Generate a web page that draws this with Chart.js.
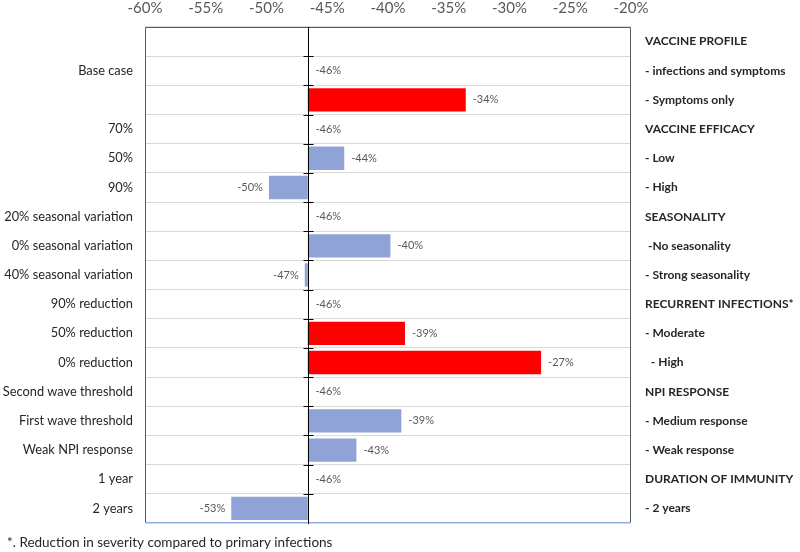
<!DOCTYPE html>
<html>
<head>
<meta charset="utf-8">
<script src="https://cdn.jsdelivr.net/npm/chart.js@4/dist/chart.umd.min.js"></script>
<style>
  html, body { margin: 0; padding: 0; background: #fff; }
  #wrap { width: 800px; height: 552px; }
</style>
</head>
<body>
<div id="wrap"><canvas id="tornado"></canvas></div>
<script>
// scenario labels (left) and group labels (right), top row is a header row
const leftLabels = ['', 'Base case', '', '70%', '50%', '90%', '20% seasonal variation', '0% seasonal variation',
  '40% seasonal variation', '90% reduction', '50% reduction', '0% reduction', 'Second wave threshold',
  'First wave threshold', 'Weak NPI response', '1 year', '2 years'];
const rightLabels = ['VACCINE PROFILE', '- infections and symptoms', '- Symptoms only', 'VACCINE EFFICACY', '- Low', '- High',
  'SEASONALITY', ' -No seasonality', '- Strong seasonality', 'RECURRENT INFECTIONS*', '- Moderate', '  - High',
  'NPI RESPONSE', '- Medium response', '- Weak response', 'DURATION OF IMMUNITY', '- 2 years'];

// reduction in severity (%), base case line
const baseValue = -46.6;
const values = [null, -46.6, -33.6, -46.6, -43.6, -49.8, -46.6, -39.8, -46.85, -46.6, -38.6, -27.4, -46.6, -38.9, -42.6, -46.6, -52.9];
const valueLabels = ['', '-46%', '-34%', '-46%', '-44%', '-50%', '-46%', '-40%', '-47%', '-46%', '-39%', '-27%', '-46%',
  '-39%', '-43%', '-46%', '-53%'];
const redRows = [2, 10, 11];

const blue = '#8fa3d6';
const red = '#ff0000';
const fontFamily = 'Lato, "Open Sans", sans-serif';

const tornadoExtras = {
  id: 'tornadoExtras',
  afterDatasetsDraw(chart) {
    const ctx = chart.ctx;
    const area = chart.chartArea;
    const x = chart.scales.x;
    const y = chart.scales.y;
    const bx = Math.round(x.getPixelForValue(baseValue)) + 0.5;
    ctx.save();
    // plot border
    ctx.strokeStyle = '#595959';
    ctx.lineWidth = 1;
    ctx.beginPath();
    ctx.moveTo(area.left + 0.5, area.bottom);
    ctx.lineTo(area.left + 0.5, area.top + 0.5);
    ctx.lineTo(area.right - 0.5, area.top + 0.5);
    ctx.lineTo(area.right - 0.5, area.bottom);
    ctx.stroke();
    ctx.strokeStyle = '#8faadc';
    ctx.beginPath();
    ctx.moveTo(area.left, area.bottom - 0.5);
    ctx.lineTo(area.right, area.bottom - 0.5);
    ctx.stroke();
    // base case line with tick marks
    ctx.strokeStyle = '#000';
    ctx.beginPath();
    ctx.moveTo(bx, area.top);
    ctx.lineTo(bx, area.bottom);
    const step = (area.bottom - area.top) / leftLabels.length;
    for (let i = 1; i < leftLabels.length; i++) {
      const ty = Math.round(area.top + i * step) + 0.5;
      ctx.moveTo(bx - 5, ty);
      ctx.lineTo(bx + 5, ty);
    }
    ctx.moveTo(bx, area.bottom);
    ctx.lineTo(bx, area.bottom + 1);
    ctx.stroke();
    // value labels
    ctx.font = '11px ' + fontFamily;
    ctx.fillStyle = '#595959';
    ctx.textBaseline = 'middle';
    values.forEach((v, i) => {
      if (v === null) return;
      const py = y.getPixelForValue(i);
      const px = x.getPixelForValue(v);
      if (v < baseValue - 0.1) {
        ctx.textAlign = 'right';
        ctx.fillText(valueLabels[i], px - 6, py);
      } else {
        ctx.textAlign = 'left';
        ctx.fillText(valueLabels[i], Math.max(px, bx) + 7, py);
      }
    });
    // footnote
    ctx.font = '13.5px ' + fontFamily;
    ctx.fillStyle = '#262626';
    ctx.textAlign = 'left';
    ctx.fillText('*. Reduction in severity compared to primary infections', 7, 543);
    ctx.restore();
  }
};

new Chart(document.getElementById('tornado'), {
  type: 'bar',
  data: {
    labels: leftLabels,
    datasets: [{
      data: values.map(v => v === null ? null : [baseValue, v]),
      backgroundColor: values.map((v, i) => redRows.includes(i) ? red : blue),
      barPercentage: 0.8,
      categoryPercentage: 1.0
    }]
  },
  options: {
    indexAxis: 'y',
    responsive: true,
    maintainAspectRatio: false,
    animation: false,
    layout: { padding: { top: 0, bottom: 29, left: 0, right: 0 } },
    plugins: { legend: { display: false }, tooltip: { enabled: false } },
    scales: {
      x: {
        position: 'top',
        min: -60,
        max: -20,
        afterFit(scale) { scale.height = 27; },
        grid: { display: false, drawTicks: false },
        border: { display: false },
        ticks: {
          stepSize: 5,
          padding: 10,
          color: '#595959',
          font: { family: fontFamily, size: 15 },
          callback: v => v + '%'
        }
      },
      y: {
        position: 'left',
        afterFit(scale) { scale.width = 145; },
        grid: { color: '#d9d9d9', drawTicks: false, offset: true },
        border: { display: false },
        ticks: {
          padding: 12,
          color: '#262626',
          font: { family: fontFamily, size: 12.8 }
        }
      },
      y2: {
        type: 'category',
        position: 'right',
        labels: rightLabels,
        offset: true,
        afterFit(scale) { scale.width = 169; },
        grid: { display: false, drawTicks: false },
        border: { display: false },
        ticks: {
          padding: 14,
          color: '#262626',
          font: { family: fontFamily, size: 12, weight: 'bold' }
        }
      }
    }
  },
  plugins: [tornadoExtras]
});
</script>
</body>
</html>
